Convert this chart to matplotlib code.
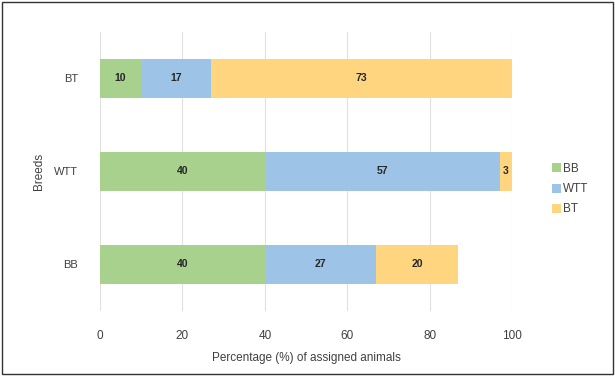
import matplotlib
matplotlib.use("Agg")
import matplotlib.pyplot as plt
from matplotlib.patches import Rectangle

# Datos: porcentaje de animales asignados por raza
breeds = ["BB", "WTT", "BT"]
series = ["BB", "WTT", "BT"]
bb_vals = [40, 40, 10]
wtt_vals = [27, 57, 17]
bt_vals = [20, 3, 73]
xticks = [0, 20, 40, 60, 80, 100]

colors = ["#a9d18e", "#9dc3e6", "#ffd67f"]

plt.rcParams["font.family"] = ["Liberation Sans", "DejaVu Sans"]

fig = plt.figure(figsize=(6.15, 3.76), dpi=100)
ax = fig.add_axes([0.1626, 0.174, 0.670, 0.742])

left = [0, 0, 0]
for name, vals, c in zip(series, [bb_vals, wtt_vals, bt_vals], colors):
    bars = ax.barh(breeds, vals, left=left, height=0.42, color=c, label=name, zorder=3)
    for b, v in zip(bars, vals):
        ax.text(b.get_x() + b.get_width() / 2, b.get_y() + b.get_height() / 2, str(v),
                ha="center", va="center", fontsize=7.5, fontweight="bold", color="#262626", zorder=4)
    left = [l + v for l, v in zip(left, vals)]

ax.set_xlim(0, 100)
ax.set_ylim(-0.5, 2.5)
ax.set_xticks(xticks)
ax.grid(axis="x", color="#e0e0e0", linewidth=0.8, zorder=0)
for s in ax.spines.values():
    s.set_visible(False)
ax.tick_params(axis="both", length=0, labelsize=8.5, colors="#404040")
ax.tick_params(axis="x", pad=14)
ax.tick_params(axis="y", pad=16, labelsize=8)

ax.set_xlabel("Percentage (%) of assigned animals", fontsize=8.5, color="#404040", labelpad=7)
ax.set_ylabel("Breeds", fontsize=8.5, color="#404040", labelpad=6)

ax.legend(loc="center left", bbox_to_anchor=(1.07, 0.435), frameon=False, fontsize=8.5,
          handlelength=0.8, handleheight=0.8, handletextpad=0.2, labelspacing=0.7,
          labelcolor="#404040")

# marco exterior
fig.patches.append(Rectangle((0.003, 0.004), 0.994, 0.992, transform=fig.transFigure,
                             fill=False, edgecolor="#333333", linewidth=1.0))

fig.savefig("out.png", dpi=100)
